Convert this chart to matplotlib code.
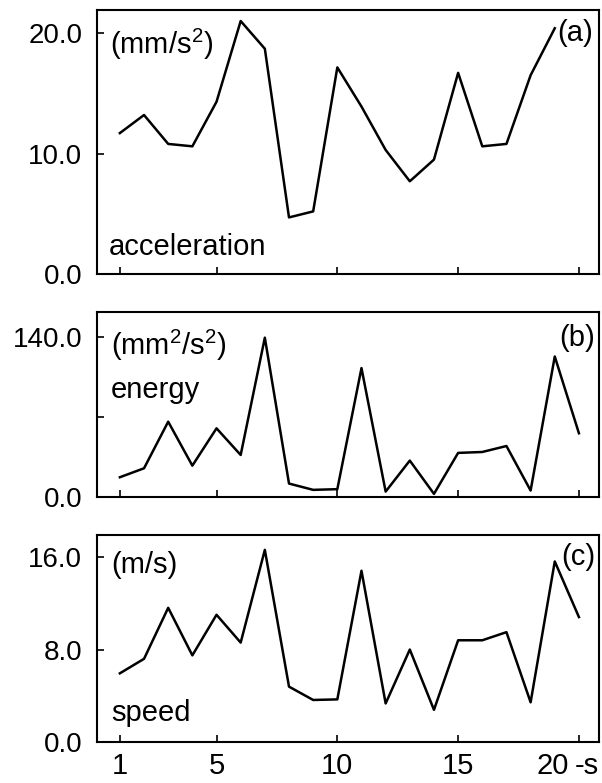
import matplotlib
matplotlib.use("Agg")
import matplotlib.pyplot as plt
import matplotlib.transforms as mtransforms

plt.rcParams['font.family'] = ['Liberation Sans', 'DejaVu Sans']
plt.rcParams['mathtext.fontset'] = 'custom'
plt.rcParams['mathtext.rm'] = 'Liberation Sans'

# time (s)
t_acc = list(range(1, 20))
t = list(range(1, 21))

acceleration = [11.7, 13.2, 10.8, 10.6, 14.3, 21.0, 18.7, 4.7, 5.2, 17.15,
                13.9, 10.3, 7.7, 9.5, 16.7, 10.6, 10.8, 16.5, 20.4]
energy = [17.4, 25.2, 65.8, 27.5, 60.0, 36.8, 139.0, 11.9, 6.4, 7.0,
          112.5, 4.9, 31.9, 2.9, 38.6, 39.4, 44.6, 5.8, 122.6, 55.7]
speed = [5.95, 7.2, 11.6, 7.5, 11.0, 8.6, 16.6, 4.8, 3.65, 3.7,
         14.8, 3.35, 8.0, 2.8, 8.8, 8.8, 9.5, 3.45, 15.6, 10.8]

x_ticks = [1, 5, 10, 15, 20]
x_labels = ['1', '5', '10', '15', '20']

fig = plt.figure(figsize=(6.02, 7.83), dpi=100)

# panel rectangles in figure fractions
ax_a = fig.add_axes([0.161, 0.650, 0.834, 0.337])
ax_b = fig.add_axes([0.161, 0.365, 0.834, 0.236])
ax_c = fig.add_axes([0.161, 0.052, 0.834, 0.265])

fs = 21

def style(ax, ylim, yticks, ylabels):
    ax.set_xlim(0.05, 20.83)
    ax.set_ylim(*ylim)
    ax.set_yticks(yticks)
    ax.set_yticklabels(ylabels, fontsize=20)
    ax.set_xticks(x_ticks)
    ax.set_xticklabels([])
    ax.tick_params(axis='y', direction='in', length=5, width=1.2, pad=10.5)
    ax.tick_params(axis='x', direction='in', length=5, width=1.2, pad=7)
    for s in ax.spines.values():
        s.set_linewidth(1.5)

ax_a.plot(t_acc, acceleration, color='black', lw=1.8)
style(ax_a, (0, 21.9), [0, 10, 20], ['0.0', '10.0', '20.0'])
ax_a.text(0.026, 0.872, '(mm/s$^2$)', transform=ax_a.transAxes, fontsize=fs,
          va='center', ha='left')
ax_a.text(0.988, 0.913, '(a)', transform=ax_a.transAxes, fontsize=fs,
          va='center', ha='right')
ax_a.text(0.024, 0.102, 'acceleration', transform=ax_a.transAxes, fontsize=fs,
          va='center', ha='left')

ax_b.plot(t, energy, color='black', lw=1.8)
style(ax_b, (0, 161), [0, 70, 140], ['0.0', '', '140.0'])
ax_b.text(0.028, 0.82, '(mm$^2$/s$^2$)', transform=ax_b.transAxes, fontsize=fs,
          va='center', ha='left')
ax_b.text(0.028, 0.578, 'energy', transform=ax_b.transAxes, fontsize=fs,
          va='center', ha='left')
ax_b.text(0.993, 0.86, '(b)', transform=ax_b.transAxes, fontsize=fs,
          va='center', ha='right')

ax_c.plot(t, speed, color='black', lw=1.8)
style(ax_c, (0, 17.9), [0, 8, 16], ['0.0', '8.0', '16.0'])
ax_c.set_xticklabels(x_labels, fontsize=21)
ax_c.text(0.028, 0.855, '(m/s)', transform=ax_c.transAxes, fontsize=fs,
          va='center', ha='left')
ax_c.text(0.028, 0.14, 'speed', transform=ax_c.transAxes, fontsize=fs,
          va='center', ha='left')
ax_c.text(0.993, 0.894, '(c)', transform=ax_c.transAxes, fontsize=fs,
          va='center', ha='right')

# shift the "20" label left and put the unit after it
last = ax_c.get_xticklabels()[-1]
last.set_transform(last.get_transform() +
                   mtransforms.ScaledTranslation(-0.26, 0, fig.dpi_scale_trans))
fig.text(0.995, 0.0395, '-s', fontsize=21, ha='right', va='top')

fig.savefig('out.png', dpi=100)
